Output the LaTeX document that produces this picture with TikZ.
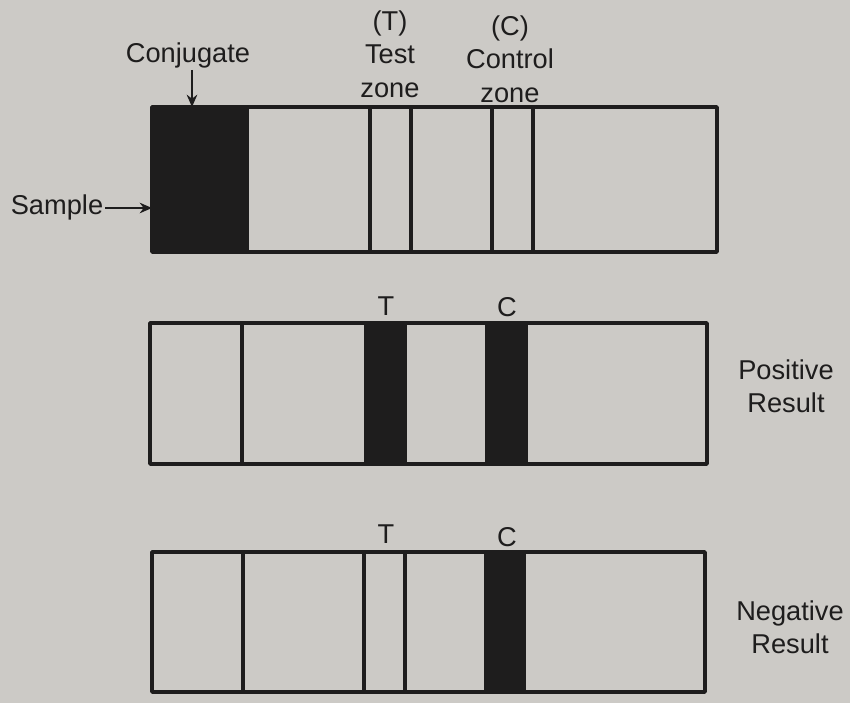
\documentclass[tikz,border=0pt]{standalone}
\usepackage{fontspec}
\setmainfont{Liberation Sans}
\usetikzlibrary{arrows.meta}
\definecolor{paper}{RGB}{204,202,198}
\definecolor{ink}{RGB}{30,29,29}
\begin{document}
\begin{tikzpicture}[x=0.02cm,y=-0.02cm,>={Stealth[length=7pt,width=6pt]},
    font=\fontsize{15.5}{19}\selectfont, line join=round,
    stripbox/.style={draw=ink,line width=2pt},
    zoneline/.style={draw=ink,line width=2pt},
    band/.style={fill=ink},
    lbl/.style={inner sep=1pt,align=center,text=ink}]
    % paper
    \fill[paper] (0,0) rectangle (850,703);
    \useasboundingbox (0,0) rectangle (850,703);
    % strip 1
    \fill[band] (152,107) rectangle (247,252);
    \draw[zoneline] (247,107)--(247,252);
    \foreach \xx in {370,411,492,533} \draw[zoneline] (\xx,107)--(\xx,252);
    \draw[stripbox] (152,107) rectangle (717,252);
    \node[lbl] (conj) at (188,55) {Conjugate};
    \node[lbl] (sample) at (57,207) {Sample};
    \node[lbl] (tzone) at (390,54) {(T)\\Test\\zone};
    \node[lbl] (czone) at (510,59) {(C)\\Control\\zone};
    \coordinate (conjtip) at (192,107);
    \coordinate (sampletip) at (152,208);
    \draw[->,ink,line width=1.6pt] (conj.south -| conjtip) -- (conjtip);
    \draw[->,ink,line width=1.6pt] (sample.east |- sampletip) -- (sampletip);
    % strip 2
    \fill[band] (364,323) rectangle (407,464);
    \fill[band] (485,323) rectangle (528,464);
    \draw[zoneline] (242,323)--(242,464);
    \draw[stripbox] (150,323) rectangle (707,464);
    \node[lbl] (tpos) at (386,306) {T};
    \node[lbl] (cpos) at (507,307) {C};
    \node[lbl] (pos) at (786,386) {Positive\\Result};
    % strip 3
    \fill[band] (484,552) rectangle (526,692);
    \foreach \xx in {243,364,405} \draw[zoneline] (\xx,552)--(\xx,692);
    \draw[stripbox] (152,552) rectangle (705,692);
    \node[lbl] (tneg) at (386,534) {T};
    \node[lbl] (cneg) at (507,537) {C};
    \node[lbl] (neg) at (790,627) {Negative\\Result};
\end{tikzpicture}
\end{document}
